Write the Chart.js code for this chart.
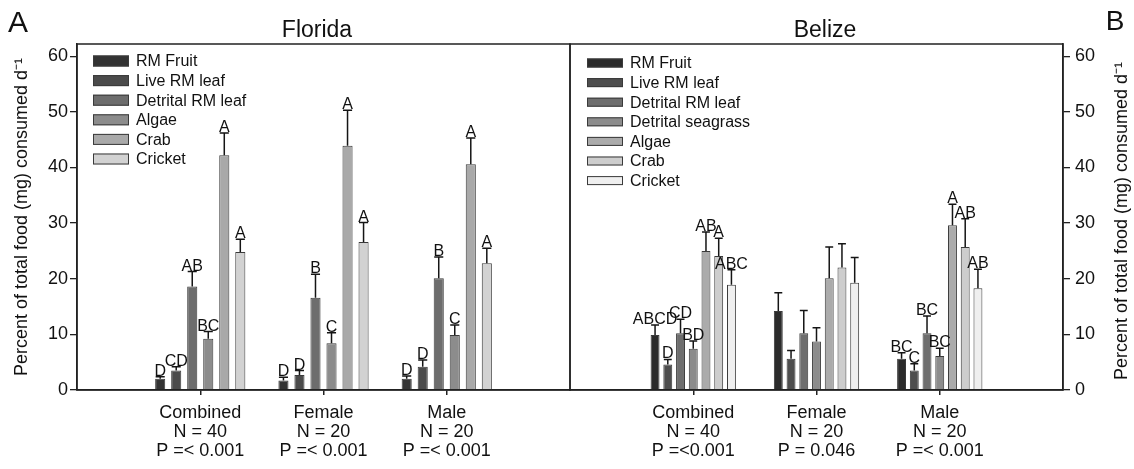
<!DOCTYPE html>
<html>
<head>
<meta charset="utf-8">
<script src="https://cdn.jsdelivr.net/npm/chart.js@4.4.1/dist/chart.umd.min.js"></script>
<style>
  html, body { margin: 0; padding: 0; background: #fff; }
  #wrap { position: relative; width: 1134px; height: 469px; }
  #wrap canvas { position: absolute; left: 0; top: 0; }
</style>
</head>
<body>
<div id="wrap">
  <canvas id="florida" width="1134" height="469"></canvas>
  <canvas id="belize" width="1134" height="469"></canvas>
</div>
<script>
const FONT = '"Liberation Sans", Arial, Helvetica, sans-serif';

// ---------- data ----------
const groups = ["Combined", "Female", "Male"];
const sampleSizes = ["N = 40", "N = 20", "N = 20"];
const floridaP = ["P =< 0.001", "P =< 0.001", "P =< 0.001"];
const belizeP = ["P =<0.001", "P = 0.046", "P =< 0.001"];
const yTitle = "Percent of total food (mg) consumed d\u207B\u00B9";

const floridaFoods = ["RM Fruit", "Live RM leaf", "Detrital RM leaf", "Algae", "Crab", "Cricket"];
const floridaColors = ["#333333", "#4b4b4b", "#6d6d6d", "#8c8c8c", "#a9a9a9", "#d2d2d2"];
const floridaMeans = [
  [2.0, 1.7, 2.0],
  [3.5, 2.7, 4.2],
  [18.6, 16.6, 20.1],
  [9.2, 8.4, 9.9],
  [42.2, 43.9, 40.6],
  [24.8, 26.6, 22.8]
];
const floridaErrors = [
  [0.4, 0.6, 0.5],
  [0.7, 0.8, 1.2],
  [2.7, 4.2, 3.8],
  [1.3, 1.9, 1.8],
  [4.0, 6.4, 4.7],
  [2.3, 3.5, 2.7]
];
const floridaLetters = [
  ["D", "D", "D"],
  ["CD", "D", "D"],
  ["AB", "B", "B"],
  ["BC", "C", "C"],
  ["A", "A", "A"],
  ["A", "A", "A"]
];

const belizeFoods = ["RM Fruit", "Live RM leaf", "Detrital RM leaf", "Detrital seagrass", "Algae", "Crab", "Cricket"];
const belizeColors = ["#2b2b2b", "#4e4e4e", "#6e6e6e", "#8c8c8c", "#ababab", "#cdcdcd", "#efefef"];
const belizeMeans = [
  [9.9, 14.2, 5.6],
  [4.6, 5.6, 3.5],
  [10.2, 10.2, 10.2],
  [7.4, 8.7, 6.1],
  [25.0, 20.1, 29.6],
  [24.1, 22.0, 25.7],
  [18.9, 19.3, 18.3]
];
const belizeErrors = [
  [1.8, 3.3, 1.1],
  [0.9, 1.5, 1.2],
  [2.5, 4.1, 3.1],
  [1.4, 2.5, 1.4],
  [3.4, 5.6, 3.8],
  [3.2, 4.3, 5.1],
  [2.7, 4.5, 3.4]
];
const belizeLetters = [
  ["ABCD", "", "BC"],
  ["D", "", "C"],
  ["CD", "", "BC"],
  ["BD", "", "BC"],
  ["AB", "", "A"],
  ["A", "", "AB"],
  ["ABC", "", "AB"]
];

// ---------- helpers ----------
const buildLabels = (pValues) => {
  const labels = groups.map((g, i) => [g, sampleSizes[i], pValues[i]]);
  return [""].concat(labels, [""]);
};

const buildDatasets = (foods, colors, means, catPct, barPct) => {
  return foods.map((food, i) => ({
    label: food,
    data: [null].concat(means[i], [null]),
    backgroundColor: colors[i],
    borderColor: "#3a3a3a",
    borderWidth: 1,
    categoryPercentage: catPct,
    barPercentage: barPct
  }));
};

const errorBars = (errors, letters) => ({
  id: "errorBars",
  afterDatasetsDraw(chart) {
    const c = chart.ctx;
    const y = chart.scales.y;
    c.save();
    c.strokeStyle = "#151515";
    c.lineWidth = 1.5;
    c.fillStyle = "#111";
    c.font = "16px " + FONT;
    c.textAlign = "center";
    c.textBaseline = "alphabetic";
    chart.data.datasets.forEach((ds, d) => {
      const meta = chart.getDatasetMeta(d);
      ds.data.forEach((v, i) => {
        if (v === null) return;
        const g = i - 1;
        const bar = meta.data[i];
        const top = y.getPixelForValue(v + errors[d][g]);
        const half = bar.width / 2 - 0.5;
        c.beginPath();
        c.moveTo(bar.x, bar.y);
        c.lineTo(bar.x, top);
        c.moveTo(bar.x - half, top);
        c.lineTo(bar.x + half, top);
        c.stroke();
        if (letters[d][g]) c.fillText(letters[d][g], bar.x, top - 1);
      });
    });
    c.restore();
  }
});

const frameAndLegend = (foods, colors, legendX, firstRow, boxH, texts) => ({
  id: "frameAndLegend",
  afterDraw(chart) {
    const c = chart.ctx;
    const a = chart.chartArea;
    c.save();
    c.strokeStyle = "#222";
    c.lineWidth = 1.5;
    c.strokeRect(a.left, a.top, a.right - a.left, a.bottom - a.top);

    // legend
    c.font = "16px " + FONT;
    c.textBaseline = "middle";
    c.textAlign = "left";
    foods.forEach((f, i) => {
      const cy = firstRow + i * 19.6;
      c.fillStyle = colors[i];
      c.fillRect(legendX, cy - boxH / 2, 36, boxH);
      c.strokeStyle = "#3a3a3a";
      c.lineWidth = 1;
      c.strokeRect(legendX + 0.5, cy - boxH / 2 + 0.5, 35, boxH - 1);
      c.fillStyle = "#111";
      c.fillText(f, legendX + 43, cy + 1);
    });

    // titles and panel letters
    texts.forEach((t) => {
      c.save();
      c.font = t.font;
      c.fillStyle = "#111";
      c.textAlign = "center";
      c.textBaseline = "alphabetic";
      c.translate(t.x, t.y);
      if (t.rot) c.rotate(t.rot);
      c.fillText(t.text, 0, 0);
      c.restore();
    });
    c.restore();
  }
});

const makeChart = (id, labels, datasets, side, plugins) => {
  const left = side === "left";
  return new Chart(document.getElementById(id), {
    type: "bar",
    data: { labels: labels, datasets: datasets },
    options: {
      responsive: false,
      animation: false,
      devicePixelRatio: 1,
      layout: {
        padding: left
          ? { top: 44, left: 0, right: 564, bottom: 0 }
          : { top: 44, left: 570, right: 0, bottom: 0 }
      },
      plugins: { legend: { display: false }, tooltip: { enabled: false } },
      scales: {
        x: {
          offset: false,
          grid: {
            offset: false,
            drawOnChartArea: false,
            drawTicks: true,
            tickLength: 5,
            lineWidth: 1.5,
            color: (ctx) => (ctx.index === 0 || ctx.index === 4 ? "rgba(0,0,0,0)" : "#222")
          },
          border: { display: true, color: "#222", width: 1.5 },
          ticks: {
            color: "#111",
            font: { family: FONT, size: 18, lineHeight: 1.05 },
            padding: 9,
            maxRotation: 0,
            autoSkip: false
          },
          afterFit: (s) => { s.height = 79; }
        },
        y: {
          position: side,
          min: 0,
          max: 62.2,
          grid: {
            drawOnChartArea: false,
            drawTicks: true,
            tickLength: 7,
            lineWidth: 1.3,
            color: "#222"
          },
          border: { display: true, color: "#222", width: 1.5 },
          ticks: {
            stepSize: 10,
            includeBounds: false,
            color: "#111",
            padding: left ? 2 : 5,
            font: { family: FONT, size: 18 }
          },
          title: {
            display: left,
            text: yTitle,
            color: "#111",
            font: { family: FONT, size: 18, lineHeight: 1.2 },
            padding: { top: 11, bottom: 0 }
          },
          afterFit: (s) => { s.width = left ? 77 : 71; }
        }
      }
    },
    plugins: plugins
  });
};

// ---------- Florida ----------
makeChart(
  "florida",
  buildLabels(floridaP),
  buildDatasets(floridaFoods, floridaColors, floridaMeans, 0.78, 0.63),
  "left",
  [
    errorBars(floridaErrors, floridaLetters),
    frameAndLegend(floridaFoods, floridaColors, 93, 61, 11, [
      { text: "Florida", x: 317, y: 37, font: "23px " + FONT },
      { text: "A", x: 18, y: 32, font: "30px " + FONT }
    ])
  ]
);

// ---------- Belize ----------
makeChart(
  "belize",
  buildLabels(belizeP),
  buildDatasets(belizeFoods, belizeColors, belizeMeans, 0.723, 0.7),
  "right",
  [
    errorBars(belizeErrors, belizeLetters),
    frameAndLegend(belizeFoods, belizeColors, 587, 63, 9, [
      { text: "Belize", x: 825, y: 37, font: "23px " + FONT },
      { text: "B", x: 1115, y: 30, font: "28px " + FONT },
      { text: yTitle, x: 1127, y: 221, font: "18px " + FONT, rot: -Math.PI / 2 }
    ])
  ]
);
</script>
</body>
</html>
